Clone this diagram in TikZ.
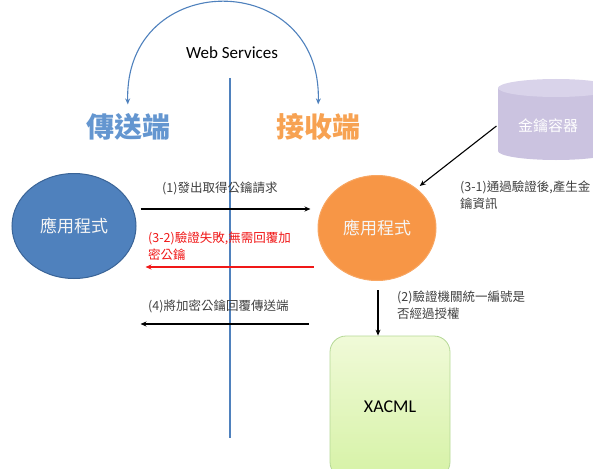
\documentclass[tikz,border=0pt]{standalone}
\usepackage{fontspec}
\setmainfont{Carlito}
\newfontfamily\cjk{Noto Sans CJK TC}
\usetikzlibrary{positioning,calc,shapes.geometric,arrows.meta}

\definecolor{wsblue}{HTML}{4F81BD}
\definecolor{sendfill}{HTML}{4F81BD}
\definecolor{senddraw}{HTML}{3A6497}
\definecolor{recvfill}{HTML}{F79646}
\definecolor{recvtitle}{HTML}{F7A252}
\definecolor{sendtitle}{HTML}{6496D0}
\definecolor{keybody}{HTML}{CBC3E0}
\definecolor{keytop}{HTML}{D9D3EA}
\definecolor{xacmltop}{HTML}{F0FAD8}
\definecolor{xacmlbot}{HTML}{D6F2A6}
\definecolor{xacmldraw}{HTML}{B5D896}
\definecolor{msgtext}{HTML}{404040}
\definecolor{msgred}{HTML}{F01818}

\begin{document}
\begin{tikzpicture}[x=1pt,y=-1pt,>={Stealth[length=6pt,width=5pt]},
    msg/.style={font=\cjk\fontsize{12.5}{16.5}\selectfont,text=msgtext,align=left,anchor=west,inner sep=0pt},
    app/.style={ellipse,minimum width=#1,minimum height=105pt,font=\cjk\fontsize{17}{19}\selectfont,text=white!92!gray},
    side/.style={font=\cjk\bfseries\fontsize{28}{30}\selectfont,inner sep=2pt},
    flow/.style={->,line width=1.3pt}]
    \clip (0,0) rectangle (593,468);
    %% Sides of the service
    \node[side,text=sendtitle] (sendside) at (128,127) {傳送端};
    \node[side,text=recvtitle] (recvside) at (318,127) {接收端};
    \node[font=\fontsize{17}{19}\selectfont] (ws) at (232,53) {Web Services};
    \draw[<->,wsblue,line width=1.1pt,shorten <=7pt,shorten >=7pt]
        (sendside.north) .. controls (124,-32) and (322,-32) .. (recvside.north);
    \draw[wsblue,line width=1.5pt] (230,78) -- (230,438);
    %% Applications
    \node[app=124pt,fill=sendfill,draw=senddraw,line width=1pt] (sender) at (74,226) {應用程式};
    \node[app=118pt,fill=recvfill,draw=recvfill!85!white,line width=1pt] (receiver) at (377,228) {應用程式};
    %% Key store (cylinder)
    \fill[keybody] (498,88) -- (498,151) arc (180:0:58 and 9) -- (614,88) -- cycle;
    \fill[keytop] (556,88) ellipse (58 and 9);
    \node[font=\cjk\fontsize{15}{17}\selectfont,text=white] (keystore) at (548,126) {金鑰容器};
    %% XACML
    \node[rectangle,rounded corners=16pt,minimum width=120pt,minimum height=142pt,
        top color=xacmltop,bottom color=xacmlbot,draw=xacmldraw,line width=0.8pt,
        font=\fontsize{18}{20}\selectfont] (xacml) at (390,407) {XACML};
    %% Message levels
    \coordinate (m1) at (0,209);
    \coordinate (m2) at (378,0);
    \coordinate (m3) at (0,267);
    \coordinate (m4) at (0,324);
    %% Requests and replies
    \draw[flow] ($(sender.east |- m1)+(4,0)$) -- ($(receiver.west |- m1)+(-7,0)$);
    \node[msg] at (162,188) {(1)發出取得公鑰請求};
    \draw[flow,msgred,line width=1.5pt] ($(receiver.west |- m3)+(-4,0)$) -- ($(sender.east |- m3)+(9,0)$);
    \node[msg,text=msgred] at (148,246) {(3-2)驗證失敗,無需回覆加\\密公鑰};
    \draw[flow] ($(receiver.west |- m4)+(-9,0)$) -- ($(sender.east |- m4)+(4,0)$);
    \node[msg] at (148,306) {(4)將加密公鑰回覆傳送端};
    \draw[flow] ($(m2 |- receiver.south)+(0,9)$) -- (m2 |- xacml.north);
    \node[msg] at (397,305) {(2)驗證機關統一編號是\\否經過授權};
    \draw[flow,line width=1.1pt,shorten >=4pt] ($(keystore.west)+(-18,0)$) -- (receiver.45);
    \node[msg] at (460,195) {(3-1)通過驗證後,產生金\\鑰資訊};
\end{tikzpicture}
\end{document}
